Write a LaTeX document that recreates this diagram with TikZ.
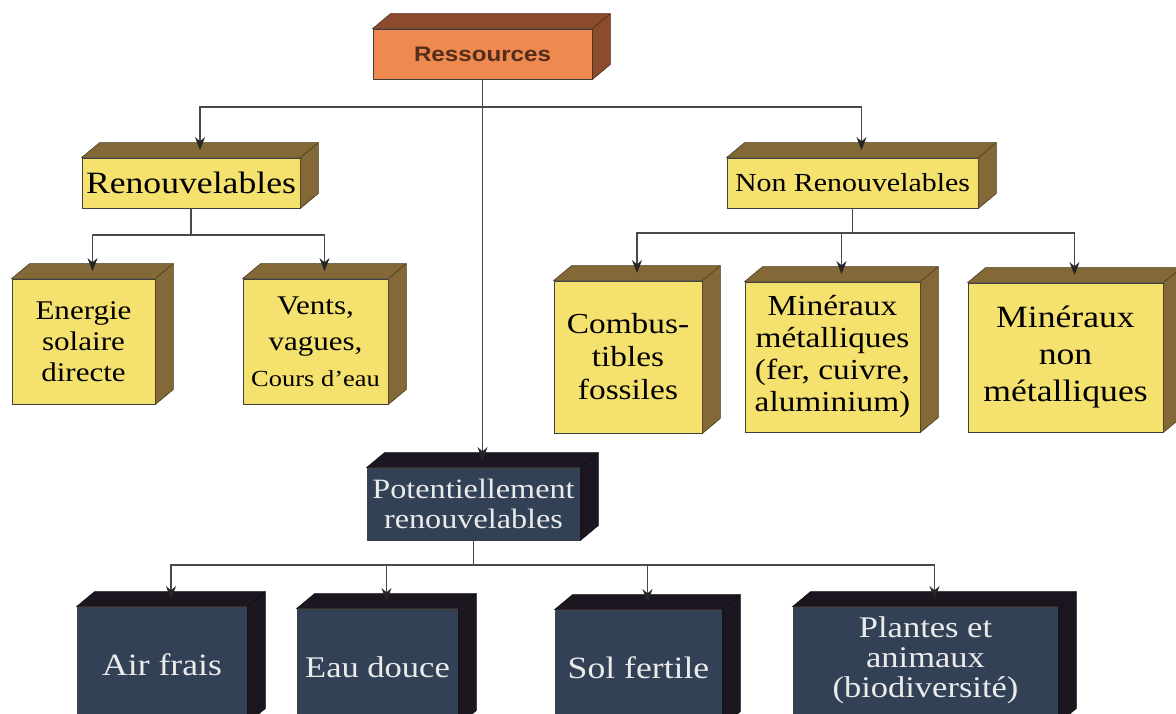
\documentclass[tikz,border=0pt]{standalone}
\usepackage{fontspec}
\newfontfamily\serifwide[FakeStretch=1.15]{Liberation Serif}
\newfontfamily\sanswide[FakeStretch=1.15]{Liberation Sans}
\usetikzlibrary{arrows.meta}

\definecolor{orangeface}{HTML}{EE8A50}
\definecolor{orangedos}{HTML}{8C4B2D}
\definecolor{jauneface}{HTML}{F5E16E}
\definecolor{jaunedos}{HTML}{826937}
\definecolor{sombreface}{HTML}{324155}
\definecolor{sombredos}{HTML}{1B1620}
\definecolor{filgris}{HTML}{4A4A4A}

\def\dx{18}
\def\dy{15}
% faces du dessus et de droite d'un bloc
\newcommand\bloc[2]{%
  \filldraw[fill=#2,draw=#2!55!black,line width=0.6pt] (#1.north west) -- ++(\dx,-\dy) -- ([shift={(\dx,-\dy)}]#1.north east) -- ([shift={(\dx,-\dy)}]#1.south east) -- (#1.south east) -- (#1.north east) -- cycle;
  \draw[#2!55!black,line width=0.6pt] (#1.north east) -- ++(\dx,-\dy);
  \coordinate (#1-t) at ([shift={(\dx/2,-\dy/2)}]#1.north);
}
\newcommand\corps[2]{\fontsize{#1}{#2}\selectfont}

\begin{document}
\begin{tikzpicture}[x=1pt,y=-1pt,
    face/.style={rectangle,draw=black!75,line width=0.8pt,inner sep=0pt,align=center},
    jaune/.style={face,fill=jauneface,text=black},
    sombre/.style={face,fill=sombreface,text=white!92!black},
    fil/.style={draw=filgris,line width=1.2pt},
    fleche/.style={fil,-{Stealth[length=13pt,width=10pt,color=black!85]}}]

    \useasboundingbox (0,0) rectangle (1176,714);
    \clip (0,0) rectangle (1176,714);

    %%%%% BLOCS %%%%%

    \node[face,fill=orangeface,text=orangedos!60!black,minimum width=219pt,minimum height=50pt,font={\sanswide\bfseries\corps{21}{24}}] (res) at (482.5,54) {Ressources};
    \bloc{res}{orangedos}

    \node[jaune,minimum width=218pt,minimum height=50pt,font={\serifwide\corps{31}{34}}] (ren) at (191,183) {Renouvelables};
    \bloc{ren}{jaunedos}
    \node[jaune,minimum width=251pt,minimum height=50pt,font={\serifwide\corps{26}{30}}] (nonren) at (852.5,183) {Non Renouvelables};
    \bloc{nonren}{jaunedos}

    \node[jaune,minimum width=143pt,minimum height=125pt,font={\serifwide\corps{27}{31}}] (energie) at (83.5,341.5) {Energie\\solaire\\directe};
    \bloc{energie}{jaunedos}
    \node[jaune,minimum width=145pt,minimum height=125pt,font={\serifwide\corps{27}{36}}] (vents) at (315.5,341.5) {Vents,\\vagues,\\{\corps{23}{36}Cours d’eau}};
    \bloc{vents}{jaunedos}

    \node[jaune,minimum width=148pt,minimum height=152pt,font={\serifwide\corps{29}{33}}] (combus) at (628,357) {Combus-\\tibles\\fossiles};
    \bloc{combus}{jaunedos}
    \node[jaune,minimum width=175pt,minimum height=150pt,font={\serifwide\corps{29}{32}}] (metal) at (832.5,357) {Minéraux\\métalliques\\(fer, cuivre,\\aluminium)};
    \bloc{metal}{jaunedos}
    \node[jaune,minimum width=195pt,minimum height=149pt,font={\serifwide\corps{31}{37}}] (nonmet) at (1065.5,357.5) {Minéraux\\non\\métalliques};
    \bloc{nonmet}{jaunedos}

    \node[sombre,minimum width=213pt,minimum height=72pt,font={\serifwide\corps{28}{30}}] (pot) at (473.5,504) {Potentiellement\\renouvelables};
    \bloc{pot}{sombredos}

    \node[sombre,minimum width=170pt,minimum height=116pt,font={\serifwide\corps{31}{34}}] (air) at (162,665) {Air frais};
    \bloc{air}{sombredos}
    \node[sombre,minimum width=161pt,minimum height=116pt,font={\serifwide\corps{30}{34}}] (eau) at (377.5,667) {Eau douce};
    \bloc{eau}{sombredos}
    \node[sombre,minimum width=167pt,minimum height=116pt,font={\serifwide\corps{31}{34}}] (sol) at (638.5,668) {Sol fertile};
    \bloc{sol}{sombredos}
    \node[sombre,minimum width=265pt,minimum height=116pt,font={\serifwide\corps{30}{30}}] (plantes) at (925.5,665) {Plantes et\\animaux\\(biodiversité)\\[-14pt]};
    \bloc{plantes}{sombredos}

    %%%%% LIAISONS %%%%%

    \coordinate (b1) at (0,107);
    \coordinate (b2) at (0,235);
    \coordinate (b3) at (0,233);
    \coordinate (b4) at (0,565);

    \draw[fleche] (res.south) -- (res.south |- b1) -| (ren-t);
    \draw[fleche] (res.south) -- (res.south |- b1) -| (nonren-t);
    \draw[fleche] (res.south) -- (pot-t);

    \draw[fleche] (ren.south) -- (ren.south |- b2) -| (energie-t);
    \draw[fleche] (ren.south) -- (ren.south |- b2) -| (vents-t);

    \draw[fleche] (nonren.south) -- (nonren.south |- b3) -| (combus-t);
    \draw[fleche] (nonren.south) -- (nonren.south |- b3) -| (metal-t);
    \draw[fleche] (nonren.south) -- (nonren.south |- b3) -| (nonmet-t);

    \draw[fleche] (pot.south) -- (pot.south |- b4) -| (air-t);
    \draw[fleche] (pot.south) -- (pot.south |- b4) -| (eau-t);
    \draw[fleche] (pot.south) -- (pot.south |- b4) -| (sol-t);
    \draw[fleche] (pot.south) -- (pot.south |- b4) -| (plantes-t);

\end{tikzpicture}
\end{document}
